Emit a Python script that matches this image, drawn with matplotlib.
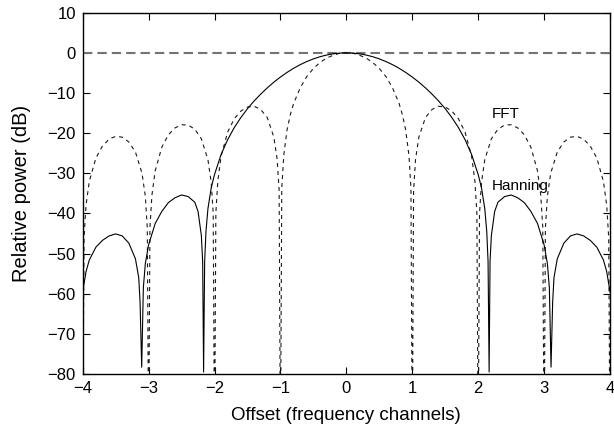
#!/usr/bin/env python

import matplotlib
matplotlib.use('Agg')
from matplotlib import pyplot as plt

plt.rcParams['font.family'] = ['Liberation Sans', 'DejaVu Sans']

# offsets (frequency channels), positive half; curves are symmetric about 0
fft_x = [0, 0.1, 0.2, 0.3, 0.4, 0.5, 0.6, 0.7, 0.8, 0.85, 0.9, 0.95, 0.98, 1.0,
         1.02, 1.05, 1.1, 1.2, 1.3, 1.4, 1.5, 1.6, 1.7, 1.8, 1.9, 1.95, 1.98, 2.0,
         2.02, 2.05, 2.1, 2.2, 2.3, 2.4, 2.5, 2.6, 2.7, 2.8, 2.9, 2.95, 2.98, 3.0,
         3.02, 3.05, 3.1, 3.2, 3.3, 3.4, 3.5, 3.6, 3.7, 3.8, 3.9, 3.95, 3.98, 4.0]
fft_db = [0, -0.1, -0.6, -1.3, -2.4, -3.9, -5.9, -8.7, -12.6, -15.4, -19.2, -25.6, -33.8, -100,
          -34.2, -26.5, -21.0, -16.1, -14.1, -13.3, -13.5, -14.5, -16.4, -19.7, -25.7, -31.9, -39.9, -100,
          -40.1, -32.3, -26.6, -21.4, -19.0, -18.0, -17.9, -18.7, -20.4, -23.5, -29.4, -35.5, -43.5, -100,
          -43.6, -35.7, -30.0, -24.7, -22.2, -21.0, -20.8, -21.5, -23.2, -26.2, -32.0, -38.0, -46.0, -100]

han_x = [0, 0.1, 0.2, 0.3, 0.4, 0.5, 0.6, 0.7, 0.8, 0.9, 1.0, 1.1, 1.2, 1.3, 1.4, 1.5,
         1.6, 1.7, 1.8, 1.9, 2.0, 2.05, 2.1, 2.13, 2.15, 2.166, 2.18, 2.2, 2.25, 2.3,
         2.4, 2.5, 2.6, 2.7, 2.8, 2.9, 3.0, 3.05, 3.08, 3.105, 3.13, 3.15, 3.2, 3.3,
         3.4, 3.5, 3.6, 3.7, 3.8, 3.9, 3.95, 4.0]
han_db = [0, -0.06, -0.24, -0.54, -0.96, -1.5, -2.16, -2.94, -3.84, -4.87, -6.02, -7.3, -8.72, -10.29, -12.0, -13.9,
          -16.1, -18.6, -21.6, -25.3, -30.3, -33.6, -38.8, -44.5, -52.0, -79.5, -52.0, -45.5, -39.5, -37.2,
          -35.8, -35.4, -36.1, -37.3, -39.5, -42.5, -47.8, -52.5, -58.5, -78.3, -62.0, -56.0, -51.3, -47.4,
          -45.6, -45.1, -45.6, -46.7, -48.4, -51.6, -54.5, -59.5]


def mirror(xs, ys):
    return ([-v for v in xs[::-1]] + xs[1:], ys[::-1] + ys[1:])


fx, fy = mirror(fft_x, fft_db)
hx, hy = mirror(han_x, han_db)

fig = plt.figure(figsize=(6.14, 4.34), dpi=100)
ax = fig.add_axes([0.1347, 0.1382, 0.8588, 0.8325])

ax.axhline(0, color='0.45', lw=1.5, ls=(0, (4.5, 2.4)))
ax.plot(fx, fy, color='0.1', lw=0.8, ls=(0, (3.6, 3.6)))
ax.plot(hx, hy, color='black', lw=0.8)

ax.text(2.2, -15.3, 'FFT', fontsize=11, va='center', ha='left')
ax.text(2.2, -33.1, 'Hanning', fontsize=11, va='center', ha='left')

ax.set_xlim(-4, 4)
ax.set_ylim(-80, 10)
ax.set_xticks(range(-4, 5))
ax.set_yticks(range(-80, 11, 10))
ax.tick_params(direction='in', top=True, right=True, length=5, width=0.8,
               labelsize=12, pad=5)
for s in ax.spines.values():
    s.set_linewidth(1.0)
ax.set_xlabel('Offset (frequency channels)', fontsize=13.5, labelpad=8)
ax.set_ylabel('Relative power (dB)', fontsize=14.5, labelpad=12)

plt.savefig('out.png', dpi=100)
